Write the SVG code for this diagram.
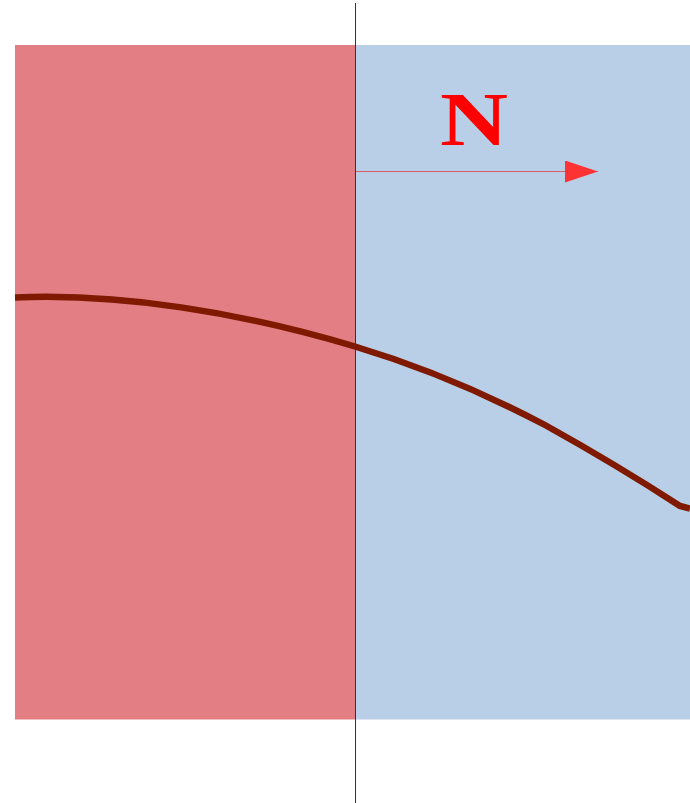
<svg xmlns="http://www.w3.org/2000/svg" width="690" height="803" viewBox="0 0 690 803">
<style>
.n{font-family:"Liberation Serif","DejaVu Serif",serif;font-weight:bold;fill:#ff0000}
</style>
<defs>
<marker id="ah" markerWidth="34" markerHeight="24" refX="33" refY="11" orient="auto" markerUnits="userSpaceOnUse">
<path d="M0,0 L33,11 L0,22 Z" fill="#ff3333"/>
</marker>
</defs>
<rect width="690" height="803" fill="#ffffff"/>
<g id="regionA"><rect x="15" y="45" width="340.5" height="674.5" fill="#e37e84"/></g>
<g id="regionB"><rect x="355.5" y="45" width="334.5" height="674.5" fill="#b9cfe7"/></g>
<g id="connectors">
<line x1="355.5" y1="3" x2="355.5" y2="803" stroke="#333333" stroke-width="1"/>
<line x1="356" y1="171.5" x2="598" y2="171.5" stroke="#e04040" stroke-width="0.8" marker-end="url(#ah)"/>
<path d="M15,297.5 C120,293 240,312 355,346.5 C430,369 490,396 545,425 C590,450 640,480 680,506 L690,508.5" fill="none" stroke="#7f1a00" stroke-width="6.5"/>
</g>
<g id="label"><text class="n" x="474" y="145" font-size="76" text-anchor="middle" textLength="68" lengthAdjust="spacingAndGlyphs">N</text></g>
</svg>
